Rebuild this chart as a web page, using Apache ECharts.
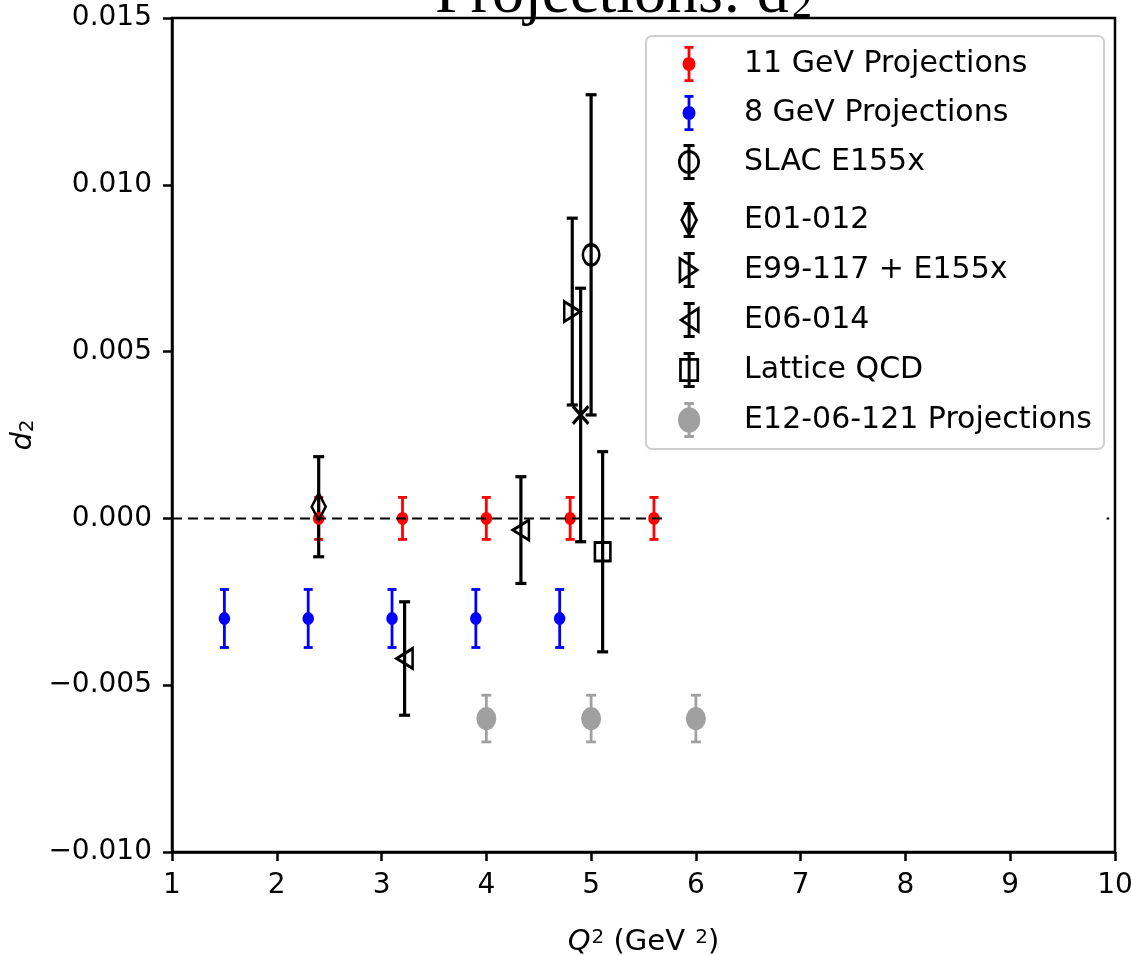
<!DOCTYPE html>
<html><head><meta charset="utf-8">
<script src="https://cdn.jsdelivr.net/npm/echarts@6/dist/echarts.min.js"></script>
<style>html,body{margin:0;padding:0;background:#fff}#c{width:1131px;height:955px}</style>
</head><body><div id="c"></div>
<script>
// ---------------- data ----------------
const xTicks = [1, 2, 3, 4, 5, 6, 7, 8, 9, 10];
const yTicks = [-0.010, -0.005, 0.000, 0.005, 0.010, 0.015];

const gev11X = [2.4, 3.2, 4.0, 4.8, 5.6];
const gev11Y = [0, 0, 0, 0, 0];
const gev11Err = [0.00063, 0.00063, 0.00063, 0.00063, 0.00063];

const gev8X = [1.5, 2.3, 3.1, 3.9, 4.7];
const gev8Y = [-0.0030, -0.0030, -0.0030, -0.0030, -0.0030];
const gev8Err = [0.00087, 0.00087, 0.00087, 0.00087, 0.00087];

const slacX = [5.0];   const slacY = [0.0079];   const slacErr = [0.0048];
const e01X = [2.4];    const e01Y = [0.00035];   const e01Err = [0.0015];
const e99X = [4.82];   const e99Y = [0.0062];    const e99Err = [0.0028];
const e06X = [3.22, 4.33]; const e06Y = [-0.0042, -0.00035]; const e06Err = [0.0017, 0.0016];
const latX = [5.11];   const latY = [-0.0010];   const latErr = [0.0030];
const crossX = [4.90]; const crossY = [0.0031];  const crossErr = [0.0038];
const e12X = [4, 5, 6]; const e12Y = [-0.0060, -0.0060, -0.0060]; const e12Err = [0.0007, 0.0007, 0.0007];

const zeroLineX = [1, 5.72];
const zeroDotX = [9.92, 9.945];

const names = ['11 GeV Projections', '8 GeV Projections', 'SLAC E155x', 'E01-012',
               'E99-117 + E155x', 'E06-014', 'Lattice QCD', 'E12-06-121 Projections'];

// ---------------- helpers ----------------
function rows(xs, ys, es) { return xs.map((x, i) => [x, ys[i], es ? es[i] : 0]); }

function errSeries(name, xs, ys, es, color, lw, capHalf) {
  return {
    type: 'custom', name: name, silent: true, animation: false,
    data: rows(xs, ys, es), encode: { x: 0, y: 1 },
    renderItem: function (params, api) {
      const x = api.value(0), y = api.value(1), e = api.value(2);
      const t = api.coord([x, y + e]), b = api.coord([x, y - e]);
      const st = { stroke: color, lineWidth: lw, fill: null };
      return { type: 'group', children: [
        { type: 'line', shape: { x1: t[0], y1: t[1], x2: b[0], y2: b[1] }, style: st },
        { type: 'line', shape: { x1: t[0] - capHalf, y1: t[1], x2: t[0] + capHalf, y2: t[1] }, style: st },
        { type: 'line', shape: { x1: b[0] - capHalf, y1: b[1], x2: b[0] + capHalf, y2: b[1] }, style: st }
      ]};
    }
  };
}

function markSeries(name, xs, ys, symbol, size, fill, stroke, bw) {
  return {
    type: 'scatter', name: name, silent: true, animation: false,
    data: rows(xs, ys).map(r => [r[0], r[1]]),
    symbol: symbol, symbolSize: size,
    itemStyle: { color: fill, borderColor: stroke, borderWidth: bw, opacity: 1 }
  };
}

// ---- legend icon path construction ----
function f(v) { return (+v.toFixed(3)); }
function area(p) { let s = 0; for (let i = 0; i < p.length; i++) { const a = p[i], b = p[(i + 1) % p.length]; s += a[0] * b[1] - b[0] * a[1]; } return s; }
function polyPath(p, positive) {
  let q = p.slice();
  if ((area(q) > 0) !== positive) q.reverse();
  return 'M' + q.map(v => f(v[0]) + ',' + f(v[1])).join('L') + 'Z';
}
function insetPoly(pts, d) {
  const n = pts.length;
  const cx = pts.reduce((s, p) => s + p[0], 0) / n, cy = pts.reduce((s, p) => s + p[1], 0) / n;
  const lines = [];
  for (let i = 0; i < n; i++) {
    const p = pts[i], q = pts[(i + 1) % n];
    const dx = q[0] - p[0], dy = q[1] - p[1], L = Math.hypot(dx, dy);
    let nx = -dy / L, ny = dx / L;
    if ((cx - p[0]) * nx + (cy - p[1]) * ny < 0) { nx = -nx; ny = -ny; }
    lines.push({ p: [p[0] + nx * d, p[1] + ny * d], dir: [dx, dy] });
  }
  const out = [];
  for (let i = 0; i < n; i++) {
    const l1 = lines[(i - 1 + n) % n], l2 = lines[i];
    const det = l1.dir[0] * (-l2.dir[1]) - l1.dir[1] * (-l2.dir[0]);
    const rx = l2.p[0] - l1.p[0], ry = l2.p[1] - l1.p[1];
    const t = (rx * (-l2.dir[1]) - ry * (-l2.dir[0])) / det;
    out.push([l1.p[0] + t * l1.dir[0], l1.p[1] + t * l1.dir[1]]);
  }
  return out;
}
function rect(x0, y0, x1, y1) { return polyPath([[x0, y0], [x1, y0], [x1, y1], [x0, y1]], true); }
function errBarPath(cx, top, bot, lw, capHalf) {
  return rect(cx - lw / 2, top, cx + lw / 2, bot) + rect(cx - capHalf, top, cx + capHalf, top + lw) + rect(cx - capHalf, bot - lw, cx + capHalf, bot);
}
function ell(cx, cy, rx, ry, positive) {
  const s = positive ? 1 : 0;
  return 'M' + f(cx - rx) + ',' + f(cy) + 'A' + rx + ',' + ry + ' 0 1,' + s + ' ' + f(cx + rx) + ',' + f(cy) +
         'A' + rx + ',' + ry + ' 0 1,' + s + ' ' + f(cx - rx) + ',' + f(cy) + 'Z';
}
function ringPoly(pts, d) { return polyPath(pts, true) + polyPath(insetPoly(pts, d), false); }

const IC = 20, H = 36, CY = 18;
const iconRed = 'path://' + errBarPath(IC, 0, H, 2.8, 4.5) + ell(IC, CY, 6.5, 7, true);
const iconGray = 'path://' + errBarPath(IC, 1, H - 1, 2.8, 4.5) + ell(IC, CY, 10.5, 12, true);
const iconCircle = 'path://' + errBarPath(IC, 0, H, 3, 5.5) + ell(IC, CY, 11, 12, true) + ell(IC, CY, 8.3, 9.3, false);
const iconDiamond = 'path://' + errBarPath(IC, 0, H, 3, 5.5) + ringPoly([[IC, 0.5], [IC + 9, CY], [IC, 35.5], [IC - 9, CY]], 2.7);
const iconRight = 'path://' + errBarPath(IC, 0, H, 3, 5.5) + ringPoly([[IC - 10.5, CY - 14], [IC + 10.5, CY], [IC - 10.5, CY + 14]], 2.7);
const iconLeft = 'path://' + errBarPath(IC, 0, H, 3, 5.5) + ringPoly([[IC + 10.5, CY - 14], [IC - 10.5, CY], [IC + 10.5, CY + 14]], 2.7);
const iconSquare = 'path://' + errBarPath(IC, 0, H, 3, 5.5) + ringPoly([[IC - 10, CY - 12], [IC + 10, CY - 12], [IC + 10, CY + 12], [IC - 10, CY + 12]], 2.7);

const legendFont = { fontFamily: 'DejaVu Sans', fontSize: 30, color: '#000' };
function legItem(name, icon, color) { return { name: name, icon: icon, itemStyle: { color: color, borderWidth: 0, opacity: 1 } }; }

// ---------------- chart ----------------
const chart = echarts.init(document.getElementById('c'), null, { renderer: 'canvas' });
const axisFont = { fontFamily: 'DejaVu Sans', fontSize: 28, color: '#000' };
const fmtY = v => (v < -1e-12 ? '\u2212' : '') + Math.abs(v).toFixed(3);

chart.setOption({
  backgroundColor: '#fff',
  animation: false,
  grid: { left: 172, right: 16, top: 18, bottom: 103, outerBoundsMode: 'none', containLabel: false,
          show: true, borderColor: '#000', borderWidth: 2.5, backgroundColor: 'transparent' },
  xAxis: {
    type: 'value', min: xTicks[0], max: xTicks[xTicks.length - 1], interval: 1,
    splitLine: { show: false },
    axisLine: { show: true, onZero: false, lineStyle: { color: '#000', width: 2.5 } },
    axisTick: { show: true, inside: false, length: 9, lineStyle: { color: '#000', width: 2.5 } },
    axisLabel: Object.assign({ margin: 20, formatter: v => String(v) }, axisFont),
    name: '{i|Q}{p|2} (GeV {p|2})', nameLocation: 'middle', nameGap: 76,
    nameTextStyle: Object.assign({}, axisFont, { rich: {
      i: { fontFamily: 'DejaVu Sans', fontStyle: 'italic', fontSize: 29, color: '#000' },
      p: { fontFamily: 'DejaVu Sans', fontSize: 20, color: '#000', verticalAlign: 'top', padding: [0, 0, 0, 1] }
    }}, { fontSize: 29 })
  },
  yAxis: {
    type: 'value', min: yTicks[0], max: yTicks[yTicks.length - 1], interval: 0.005,
    splitLine: { show: false },
    axisLine: { show: true, onZero: false, lineStyle: { color: '#000', width: 2.5 } },
    axisTick: { show: true, inside: false, length: 9, lineStyle: { color: '#000', width: 2.5 } },
    axisLabel: Object.assign({ margin: 20, formatter: fmtY }, axisFont),
    name: '{i|d}{s|2}', nameLocation: 'middle', nameRotate: 90, nameGap: 133,
    nameTextStyle: Object.assign({}, axisFont, { rich: {
      i: { fontFamily: 'DejaVu Sans', fontStyle: 'italic', fontSize: 29, color: '#000' },
      s: { fontFamily: 'DejaVu Sans', fontSize: 20, color: '#000', verticalAlign: 'bottom' }
    }})
  },
  legend: [
    { show: true, orient: 'vertical', left: 673, top: 41, itemWidth: 100, itemHeight: 36, itemGap: 13,
      selectedMode: false, symbolKeepAspect: true, z: 10, textStyle: legendFont,
      data: [legItem(names[0], iconRed, '#ff0000'), legItem(names[1], iconRed, '#0000ff'), legItem(names[2], iconCircle, '#000')] },
    { show: true, orient: 'vertical', left: 673, top: 197, itemWidth: 100, itemHeight: 36, itemGap: 14,
      selectedMode: false, symbolKeepAspect: true, z: 10, textStyle: legendFont,
      data: [legItem(names[3], iconDiamond, '#000'), legItem(names[4], iconRight, '#000'), legItem(names[5], iconLeft, '#000'),
             legItem(names[6], iconSquare, '#000'), legItem(names[7], iconGray, '#a0a0a0')] }
  ],
  graphic: [
    { type: 'rect', left: 645, top: 35, z: 8, shape: { width: 458, height: 413, r: 6 },
      style: { fill: 'rgba(255,255,255,0.85)', stroke: '#cfcfcf', lineWidth: 2 } },
    { type: 'text', x: 435, y: -4.5, z: 9, style: { text: 'Projections: d', font: '64px "Liberation Serif"', fill: '#000', textVerticalAlign: 'middle', textAlign: 'left' } },
    { type: 'text', x: 792, y: 6, z: 9, style: { text: '2', font: '40px "Liberation Serif"', fill: '#000', textVerticalAlign: 'middle', textAlign: 'left' } }
  ],
  series: [
    { type: 'line', name: 'zero', silent: true, animation: false, symbol: 'none',
      data: [[zeroLineX[0], 0], [zeroLineX[1], 0], null, [zeroDotX[0], 0], [zeroDotX[1], 0]],
      lineStyle: { color: '#000', width: 2, type: [10, 6] }, connectNulls: false },
    errSeries('err11', gev11X, gev11Y, gev11Err, '#ff0000', 2.8, 4.5),
    markSeries(names[0], gev11X, gev11Y, 'circle', [11.5, 13], '#ff0000', '#ff0000', 0),
    errSeries('err8', gev8X, gev8Y, gev8Err, '#0000ff', 2.8, 4.5),
    markSeries(names[1], gev8X, gev8Y, 'circle', [11.5, 13], '#0000ff', '#0000ff', 0),
    errSeries('errSlac', slacX, slacY, slacErr, '#000', 3.2, 5.5),
    markSeries(names[2], slacX, slacY, 'circle', [16.5, 20.5], 'rgba(0,0,0,0)', '#000', 2.8),
    errSeries('errE01', e01X, e01Y, e01Err, '#000', 3.2, 5.5),
    markSeries(names[3], e01X, e01Y, 'diamond', [14, 27], 'rgba(0,0,0,0)', '#000', 2.8),
    errSeries('errE99', e99X, e99Y, e99Err, '#000', 3.2, 5.5),
    markSeries(names[4], e99X, e99Y, 'path://M0,0L10,5L0,10Z', [16, 20], 'rgba(0,0,0,0)', '#000', 2.8),
    errSeries('errE06', e06X, e06Y, e06Err, '#000', 3.2, 5.5),
    markSeries(names[5], e06X, e06Y, 'path://M10,0L0,5L10,10Z', [16, 20], 'rgba(0,0,0,0)', '#000', 2.8),
    errSeries('errLat', latX, latY, latErr, '#000', 3.2, 5.5),
    markSeries(names[6], latX, latY, 'rect', [15.5, 18.5], 'rgba(0,0,0,0)', '#000', 2.8),
    errSeries('errCross', crossX, crossY, crossErr, '#000', 3.2, 5.5),
    markSeries('cross', crossX, crossY, 'path://M0,0L10,10M10,0L0,10', [15.5, 17.5], 'rgba(0,0,0,0)', '#000', 3.2),
    errSeries('errE12', e12X, e12Y, e12Err, '#a0a0a0', 2.8, 5),
    markSeries(names[7], e12X, e12Y, 'circle', [20, 23], '#a0a0a0', '#a0a0a0', 0)
  ]
});
</script>
</body></html>
